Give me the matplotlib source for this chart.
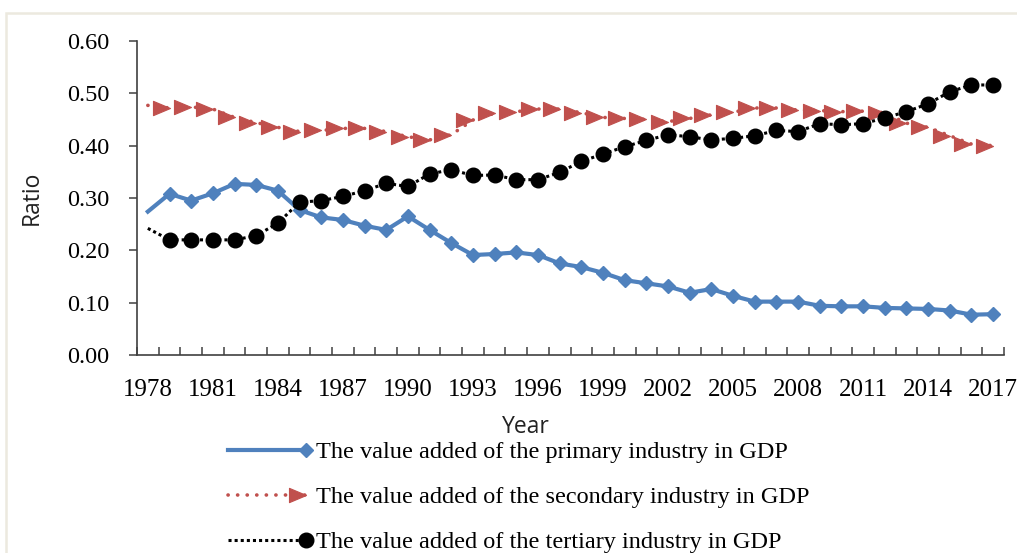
import matplotlib
matplotlib.use("Agg")
import matplotlib.pyplot as plt
from matplotlib.path import Path
from matplotlib.markers import MarkerStyle
from matplotlib.patches import Rectangle
from matplotlib.legend_handler import HandlerLine2D
import numpy as np

years = list(range(1978, 2018))

primary = [0.274, 0.308, 0.295, 0.309, 0.327, 0.325, 0.314, 0.277, 0.263, 0.258,
           0.247, 0.239, 0.265, 0.239, 0.214, 0.191, 0.193, 0.196, 0.191, 0.175,
           0.168, 0.157, 0.143, 0.137, 0.131, 0.119, 0.126, 0.113, 0.102, 0.102,
           0.102, 0.094, 0.093, 0.093, 0.090, 0.089, 0.088, 0.085, 0.077, 0.078]

secondary = [0.477, 0.472, 0.474, 0.470, 0.454, 0.444, 0.435, 0.427, 0.429, 0.433,
             0.433, 0.427, 0.417, 0.411, 0.421, 0.449, 0.462, 0.465, 0.470, 0.470,
             0.463, 0.454, 0.452, 0.450, 0.446, 0.452, 0.459, 0.464, 0.472, 0.472,
             0.468, 0.467, 0.465, 0.466, 0.463, 0.443, 0.435, 0.419, 0.403, 0.400]

tertiary = [0.242, 0.220, 0.220, 0.220, 0.220, 0.228, 0.252, 0.292, 0.295, 0.303,
            0.314, 0.328, 0.322, 0.346, 0.354, 0.343, 0.344, 0.335, 0.335, 0.349,
            0.370, 0.384, 0.398, 0.410, 0.421, 0.417, 0.411, 0.414, 0.419, 0.429,
            0.427, 0.442, 0.440, 0.442, 0.453, 0.465, 0.480, 0.503, 0.516, 0.516]

labels = ["The value added of the primary industry in GDP",
          "The value added of the secondary industry in GDP",
          "The value added of the tertiary industry in GDP"]

yticks = [0.0, 0.1, 0.2, 0.3, 0.4, 0.5, 0.6]

BLUE = "#4F81BD"
RED = "#C0504D"
BLACK = "#000000"


class EndMarkerHandler(HandlerLine2D):
    """Legend line with the marker only at its right end."""

    def create_artists(self, legend, orig_handle, xdescent, ydescent, width, height,
                       fontsize, trans):
        artists = super().create_artists(legend, orig_handle, xdescent, ydescent, width,
                                         height, fontsize, trans)
        for a in artists:
            xd = a.get_xdata()
            if len(xd) > 1:
                a.set_markevery([len(xd) - 1])
        return artists


W, H = 1017, 553
fig = plt.figure(figsize=(W / 100, H / 100), dpi=100)

# light outer frame
fig.patches.append(Rectangle((6 / W, -0.1), 1.2, 1 - 13 / H + 0.1, transform=fig.transFigure,
                             fill=False, edgecolor="#ECE9DF", lw=1.8))

ax = fig.add_axes([137 / W, 1 - 355 / H, 867 / W, 314 / H])

x = np.arange(len(years))

# triangle marker with its tip at the data point
tri = Path([(0, 0), (-1, 0.42), (-1, -0.42), (0, 0)],
           [Path.MOVETO, Path.LINETO, Path.LINETO, Path.CLOSEPOLY])
tri_marker = MarkerStyle(tri)

l1, = ax.plot(x, primary, color=BLUE, lw=3.0, marker="D", ms=7.2, mfc=BLUE, mec=BLUE, mew=1,
              markevery=slice(1, None), label=labels[0], solid_joinstyle="round", zorder=3)
l2, = ax.plot(x, secondary, color=RED, lw=2.6, linestyle=(0, (0.05, 2.6)), dash_capstyle="round",
              marker=tri_marker, ms=24.5, mfc=RED, mec=RED, mew=0.8,
              markevery=slice(1, None), label=labels[1], zorder=4)
l3, = ax.plot(x, tertiary, color=BLACK, lw=2.2, linestyle=(0, (1, 1)),
              marker="o", ms=10.5, mfc=BLACK, mec=BLACK, mew=1,
              markevery=slice(1, None), label=labels[2], zorder=5)

ax.set_xlim(-0.5, len(years) - 0.5)
ax.set_ylim(0, 0.6)

label_idx = list(range(0, len(years), 3))
ax.set_xticks(label_idx)
ax.set_xticklabels([str(years[i]) for i in label_idx])
ax.set_xticks(np.arange(-0.5, len(years), 1.0), minor=True)
ax.tick_params(axis="x", which="major", length=0, pad=17, labelsize=18)
ax.tick_params(axis="x", which="minor", direction="in", length=5.5, width=1.1, color="#404040")

ax.set_yticks(yticks)
ax.set_yticklabels([f"{v:.2f}" for v in yticks])
ax.tick_params(axis="y", direction="out", length=6, width=1.1, color="#404040", pad=14, labelsize=17.5)

for lab in ax.get_xticklabels() + ax.get_yticklabels():
    lab.set_fontfamily("Liberation Serif")

for s in ["top", "right"]:
    ax.spines[s].set_visible(False)
for s in ["left", "bottom"]:
    ax.spines[s].set_color("#404040")
    ax.spines[s].set_linewidth(1.2)

ax.set_ylabel("Ratio", fontsize=16.5, family="Open Sans", color="#222222")
ax.yaxis.set_label_coords(-0.108, 0.5)
ax.set_xlabel("Year", fontsize=16.5, family="Open Sans", color="#222222")
ax.xaxis.set_label_coords(0.449, -0.19)

handler = EndMarkerHandler(numpoints=2)
leg = fig.legend(handles=[l1, l2, l3], labels=labels,
                 loc="upper left", bbox_to_anchor=(221 / W, 1 - 441 / H), frameon=False,
                 handler_map={l1: handler, l2: handler, l3: handler},
                 handlelength=3.8, handletextpad=0.1, labelspacing=0.95,
                 borderpad=0, borderaxespad=0,
                 prop={"family": "Liberation Serif", "size": 17.5})

fig.savefig("out.png", dpi=100)
